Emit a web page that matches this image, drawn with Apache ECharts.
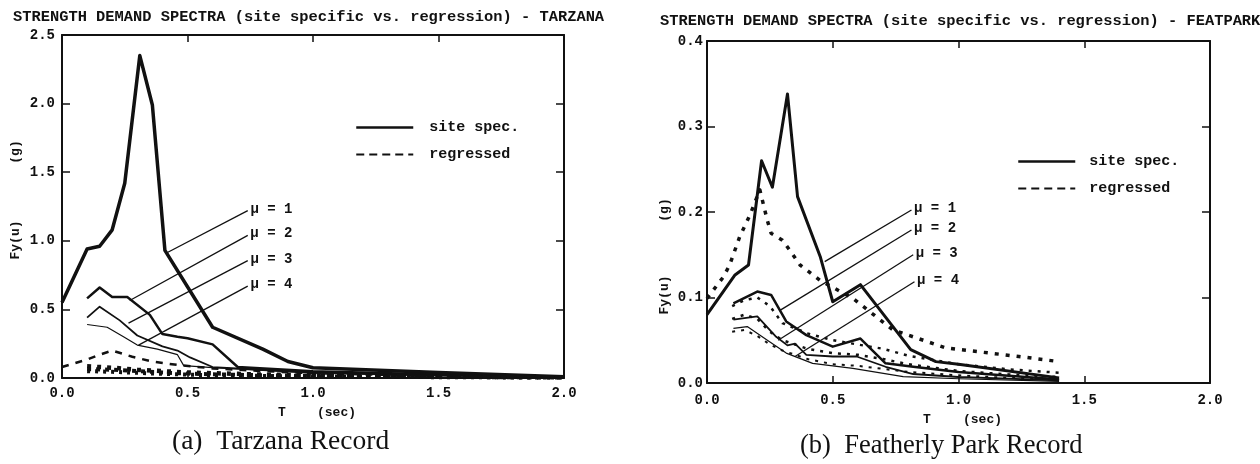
<!DOCTYPE html>
<html><head><meta charset="utf-8">
<script src="https://cdn.jsdelivr.net/npm/echarts@6/dist/echarts.min.js"></script>
<style>html,body{margin:0;padding:0;background:#fff}#c{width:1260px;height:464px}</style>
</head><body><div id="c"></div><script>
// ---------- DATA: Tarzana (left) ----------
const tarzanaSiteMu1 = [[0,0.55],[0.1,0.94],[0.15,0.96],[0.2,1.08],[0.25,1.42],[0.31,2.35],[0.36,1.99],[0.41,0.93],[0.6,0.37],[0.8,0.21],[0.9,0.12],[1.0,0.075],[1.5,0.04],[2.0,0.01]];
const tarzanaSiteMu2 = [[0.1,0.58],[0.15,0.66],[0.2,0.59],[0.26,0.59],[0.35,0.46],[0.4,0.32],[0.46,0.3],[0.5,0.29],[0.6,0.245],[0.7,0.08],[1.0,0.05],[1.5,0.025],[2.0,0.005]];
const tarzanaSiteMu3 = [[0.1,0.44],[0.15,0.52],[0.23,0.42],[0.3,0.31],[0.4,0.23],[0.46,0.2],[0.51,0.15],[0.6,0.08],[1.0,0.04],[1.5,0.02],[2.0,0.004]];
const tarzanaSiteMu4 = [[0.1,0.39],[0.18,0.37],[0.245,0.3],[0.3,0.24],[0.38,0.21],[0.46,0.17],[0.485,0.09],[0.6,0.075],[1.0,0.035],[1.5,0.015],[2.0,0.003]];
const tarzanaRegMu1 = [[0,0.08],[0.1,0.135],[0.15,0.17],[0.2,0.2],[0.28,0.155],[0.36,0.12],[0.46,0.095],[0.6,0.07],[0.8,0.05],[1.0,0.035],[1.5,0.015],[2.0,0.005]];
const tarzanaRegMu2 = [[0.1,0.085],[0.2,0.075],[0.3,0.06],[0.4,0.05],[0.5,0.04],[0.6,0.035],[0.8,0.025],[1.0,0.02],[1.5,0.01],[2.0,0.005]];
const tarzanaRegMu3 = [[0.1,0.065],[0.2,0.06],[0.3,0.05],[0.4,0.04],[0.5,0.032],[0.6,0.027],[0.8,0.02],[1.0,0.015],[1.5,0.008],[2.0,0.004]];
const tarzanaRegMu4 = [[0.1,0.05],[0.2,0.045],[0.3,0.038],[0.4,0.03],[0.5,0.025],[0.6,0.02],[0.8,0.015],[1.0,0.011],[1.5,0.006],[2.0,0.003]];
// ---------- DATA: Featherly Park (right) ----------
const featSiteMu1 = [[0,0.08],[0.11,0.126],[0.165,0.138],[0.217,0.26],[0.26,0.229],[0.32,0.338],[0.36,0.218],[0.45,0.148],[0.5,0.095],[0.61,0.115],[0.81,0.039],[0.91,0.025],[1.0,0.022],[1.4,0.006]];
const featSiteMu2 = [[0.105,0.093],[0.2,0.107],[0.255,0.103],[0.315,0.072],[0.395,0.056],[0.5,0.0425],[0.61,0.052],[0.71,0.023],[0.82,0.019],[1.0,0.013],[1.4,0.004]];
const featSiteMu3 = [[0.105,0.074],[0.2,0.078],[0.275,0.054],[0.32,0.044],[0.35,0.046],[0.395,0.033],[0.5,0.031],[0.595,0.031],[0.71,0.019],[0.82,0.0105],[1.0,0.007],[1.4,0.003]];
const featSiteMu4 = [[0.105,0.064],[0.16,0.066],[0.24,0.05],[0.315,0.035],[0.42,0.023],[0.58,0.017],[0.78,0.0075],[1.0,0.005],[1.4,0.002]];
const featRegMu1 = [[0,0.099],[0.065,0.124],[0.09,0.138],[0.13,0.171],[0.17,0.196],[0.21,0.226],[0.24,0.19],[0.255,0.175],[0.3,0.167],[0.33,0.155],[0.37,0.138],[0.45,0.12],[0.58,0.099],[0.74,0.062],[0.95,0.041],[1.24,0.031],[1.4,0.025]];
const featRegMu2 = [[0.1,0.09],[0.15,0.097],[0.2,0.1],[0.25,0.09],[0.3,0.07],[0.4,0.058],[0.5,0.05],[0.6,0.045],[0.7,0.04],[0.8,0.032],[1.0,0.022],[1.2,0.016],[1.4,0.012]];
const featRegMu3 = [[0.1,0.075],[0.15,0.08],[0.2,0.075],[0.25,0.06],[0.3,0.05],[0.4,0.04],[0.5,0.035],[0.6,0.033],[0.7,0.028],[0.8,0.022],[1.0,0.014],[1.2,0.01],[1.4,0.007]];
const featRegMu4 = [[0.1,0.06],[0.15,0.062],[0.2,0.055],[0.25,0.045],[0.3,0.038],[0.4,0.028],[0.5,0.022],[0.6,0.02],[0.8,0.013],[1.0,0.009],[1.2,0.006],[1.4,0.004]];
// ---------- annotation leader lines (data coords) ----------
const muLabels = ['μ = 1','μ = 2','μ = 3','μ = 4'];
const tarzanaLeaderStart = [[0.42,0.915],[0.27,0.565],[0.265,0.40],[0.305,0.24]];
const tarzanaLeaderEnd   = [[0.74,1.22],[0.74,1.04],[0.74,0.855],[0.74,0.67]];
const featLeaderStart = [[0.468,0.142],[0.29,0.085],[0.283,0.05],[0.35,0.031]];
const featLeaderEnd   = [[0.813,0.2023],[0.813,0.179],[0.82,0.15],[0.825,0.1185]];
// ---------- axis / text ----------
const xTicks = {min:0, max:2, interval:0.5};
const tarzanaY = {min:0, max:2.5, interval:0.5};
const featY = {min:0, max:0.4, interval:0.1};
const titleLeft = 'STRENGTH DEMAND SPECTRA (site specific vs. regression) - TARZANA';
const titleRight = 'STRENGTH DEMAND SPECTRA (site specific vs. regression) - FEATPARK';
const captionLeft = '(a)  Tarzana Record';
const captionRight = '(b)  Featherly Park Record';
const legendNames = ['site spec.','regressed'];

const MONO = "'Liberation Mono','DejaVu Sans Mono',monospace";
const SERIF = "'Liberation Serif','DejaVu Serif',serif";
const INK = '#111';

function xAx(gi, pos, labels, margin){
  return {type:'value', gridIndex:gi, position:pos, min:xTicks.min, max:xTicks.max, interval:xTicks.interval,
    axisLine:{show:true,onZero:false,lineStyle:{color:INK,width:2}},
    axisTick:{show:true,inside:true,length:7,lineStyle:{color:INK,width:1.5}},
    axisLabel:{show:labels,margin:margin,formatter:v=>v.toFixed(1),fontFamily:MONO,fontWeight:'bold',fontSize:14,color:INK},
    splitLine:{show:false}};
}
function yAx(gi, pos, labels, rng, margin){
  return {type:'value', gridIndex:gi, position:pos, min:rng.min, max:rng.max, interval:rng.interval,
    axisLine:{show:true,onZero:false,lineStyle:{color:INK,width:2}},
    axisTick:{show:true,inside:true,length:8,lineStyle:{color:INK,width:1.5}},
    axisLabel:{show:labels,margin:margin,formatter:v=>v.toFixed(1),fontFamily:MONO,fontWeight:'bold',fontSize:14,color:INK},
    splitLine:{show:false}};
}
function ln(name, data, xi, yi, width, type, extra){
  return Object.assign({type:'line', name, data, xAxisIndex:xi, yAxisIndex:yi, symbol:'none', showSymbol:false,
    silent:true, animation:false, lineStyle:{color:INK,width,type,join:'round'}, itemStyle:{color:INK}}, extra||{});
}
function leader(starts, ends){
  return {silent:true, animation:false, symbol:['none','none'],
    lineStyle:{color:INK,width:1.3,type:'solid'},
    label:{show:true,position:'end',distance:3,formatter:'{b}',fontFamily:MONO,fontWeight:'bold',fontSize:14,color:INK},
    emphasis:{disabled:true},
    data: starts.map((s,i)=>[{coord:s,name:muLabels[i]},{coord:ends[i]}])};
}
function legend(left, top, textPad){
  return {left, top, padding:0, orient:'vertical', itemWidth:57, itemHeight:14, itemGap:12, selectedMode:false,
    data:[{name:legendNames[0],lineStyle:{width:2.5,type:'solid'}},{name:legendNames[1],lineStyle:{width:2,type:[8,5]}}],
    itemStyle:{opacity:0}, textStyle:{fontFamily:MONO,fontWeight:'bold',fontSize:15,color:INK,padding:[0,0,0,textPad]}};
}
function txt(x,y,text,font){
  return {type:'text', x, y, silent:true, style:{text, font, fill:INK, align:'left', verticalAlign:'middle'}};
}
function vtxt(x,y,text,font){
  return {type:'text', x, y, rotation:Math.PI/2, silent:true, style:{text, font, fill:INK, align:'center', verticalAlign:'middle'}};
}

const chart = echarts.init(document.getElementById('c'), null, {renderer:'canvas'});
chart.setOption({
  animation:false,
  backgroundColor:'#fff',
  grid:[{left:62,top:35,width:502,height:343},{left:707,top:41,width:503,height:342}],
  xAxis:[xAx(0,'bottom',true,8), xAx(0,'top',false,8), xAx(1,'bottom',true,10), xAx(1,'top',false,8)],
  yAxis:[yAx(0,'left',true,tarzanaY,7), yAx(0,'right',false,tarzanaY,7), yAx(1,'left',true,featY,4), yAx(1,'right',false,featY,4)],
  legend:[legend(355,120,11), legend(1017,154,9)],
  series:[
    ln(legendNames[0], tarzanaSiteMu1, 0,0, 3.5,'solid',{markLine:leader(tarzanaLeaderStart,tarzanaLeaderEnd)}),
    ln(legendNames[1], tarzanaRegMu1, 0,0, 2.5,[7,7]),
    ln(legendNames[0], tarzanaSiteMu2, 0,0, 2.5,'solid'),
    ln(legendNames[0], tarzanaSiteMu3, 0,0, 1.8,'solid'),
    ln(legendNames[0], tarzanaSiteMu4, 0,0, 1.2,'solid'),
    ln(legendNames[1], tarzanaRegMu2, 0,0, 4.5,[4,6]),
    ln(legendNames[1], tarzanaRegMu3, 0,0, 4,[4,5]),
    ln(legendNames[1], tarzanaRegMu4, 0,0, 4,[3,5]),
    ln(legendNames[0], featSiteMu1, 2,2, 3,'solid',{markLine:leader(featLeaderStart,featLeaderEnd)}),
    ln(legendNames[1], featRegMu1, 2,2, 3.5,[4,7]),
    ln(legendNames[0], featSiteMu2, 2,2, 2.5,'solid'),
    ln(legendNames[0], featSiteMu3, 2,2, 1.8,'solid'),
    ln(legendNames[0], featSiteMu4, 2,2, 1.2,'solid'),
    ln(legendNames[1], featRegMu2, 2,2, 2.5,[3,6]),
    ln(legendNames[1], featRegMu3, 2,2, 2.5,[3,6]),
    ln(legendNames[1], featRegMu4, 2,2, 2,[3,6])
  ],
  graphic:[
    txt(13,17,titleLeft,'bold 15.4px '+MONO),
    txt(660,21,titleRight,'bold 15.4px '+MONO),
    vtxt(16,152,'(g)','bold 13px '+MONO),
    vtxt(16,240,'Fy(u)','bold 13px '+MONO),
    vtxt(665,210,'(g)','bold 13px '+MONO),
    vtxt(665,295,'Fy(u)','bold 13px '+MONO),
    txt(278,413,'T','bold 13px '+MONO),
    txt(317,413,'(sec)','bold 13px '+MONO),
    txt(923,420,'T','bold 13px '+MONO),
    txt(963,420,'(sec)','bold 13px '+MONO),
    txt(172,442,captionLeft,'27.5px '+SERIF),
    txt(800,446,captionRight,'26.5px '+SERIF)
  ]
});
</script></body></html>
